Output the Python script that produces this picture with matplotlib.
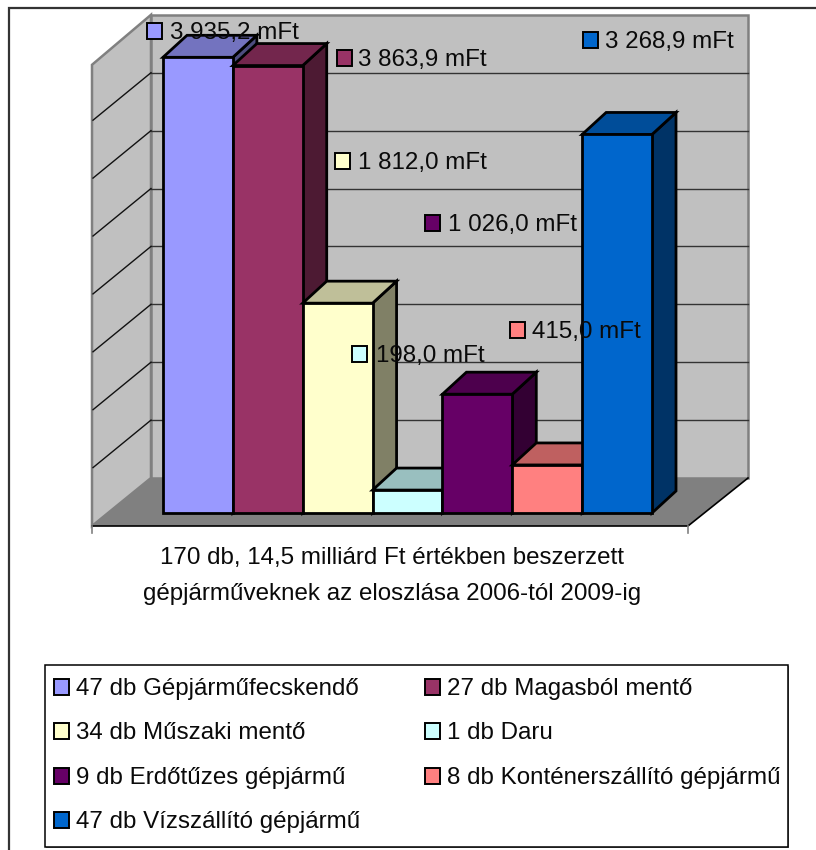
import matplotlib
matplotlib.use('Agg')
import matplotlib.pyplot as plt
from matplotlib.patches import Polygon, Rectangle

plt.rcParams['font.family'] = ['Liberation Sans', 'DejaVu Sans']

W, H = 816, 850

values = [3935.2, 3863.9, 1812.0, 198.0, 1026.0, 415.0, 3268.9]
value_labels = ['3 935,2 mFt', '3 863,9 mFt', '1 812,0 mFt', '198,0 mFt',
                '1 026,0 mFt', '415,0 mFt', '3 268,9 mFt']
names = ['47 db Gépjárműfecskendő', '27 db Magasból mentő', '34 db Műszaki mentő', '1 db Daru',
         '9 db Erdőtűzes gépjármű', '8 db Konténerszállító gépjármű', '47 db Vízszállító gépjármű']
front_cols = ['#9999FF', '#993366', '#FFFFCC', '#CCFFFF', '#660066', '#FF8080', '#0066CC']
top_cols = ['#7373BF', '#73264D', '#BFBF99', '#99BFBF', '#4D004D', '#BF6060', '#004D99']
side_cols = ['#4D4D80', '#4D1A33', '#808066', '#668080', '#330033', '#804040', '#003366']
grid_vals = [500, 1000, 1500, 2000, 2500, 3000, 3500]
title_lines = ['170 db, 14,5 milliárd Ft értékben beszerzett',
               'gépjárműveknek az eloszlása 2006-tól 2009-ig']

# data label anchors in pixels: (square left, square centre y, text left)
label_pos = [(147, 31, 170), (337, 58, 358), (335, 161, 358), (352, 354, 376),
             (425, 223, 448), (510, 330, 532), (583, 40, 605)]
legend_pos = [(54, 687), (425, 687), (54, 731), (425, 731), (54, 776), (425, 776), (54, 820)]

fig = plt.figure(figsize=(W / 100, H / 100), dpi=100, facecolor='white')

# background layer in pixel coordinates
px = fig.add_axes([0, 0, 1, 1])
px.set_xlim(0, W)
px.set_ylim(H, 0)
px.axis('off')

px.plot([9, 9, W], [H, 7.5, 7.5], color='#333333', lw=1.6, solid_joinstyle='miter')

# walls and floor
scale = 0.1158
wall_top = 478 - 4000 * scale
px.add_patch(Polygon([(92, 526), (151, 478), (151, wall_top), (92, wall_top + 50)],
                     fc='#C0C0C0', ec='#808080', lw=1.8))
px.add_patch(Polygon([(151, 478), (748, 478), (748, wall_top), (151, wall_top)],
                     fc='#C0C0C0', ec='#808080', lw=1.8))
px.add_patch(Polygon([(92, 526), (151, 478), (748, 478), (688, 526)], fc='#808080', ec='none'))
for v in grid_vals:
    y = 478 - v * scale
    px.plot([151, 748], [y, y], color='#333333', lw=1)
    px.plot([93, 151], [y + 47.5, y], color='#111111', lw=1)
px.plot([92, 688, 748], [526, 526, 478], color='black', lw=1.2)
px.plot([92, 92], [526, 533], color='#808080', lw=1.2)
px.plot([688, 688], [526, 533], color='#808080', lw=1.2)

# bars on a value axis: y=0 at pixel 513, one x unit is one 70 px category
x0, x1 = 163, 652
ax = fig.add_axes([x0 / W, (H - 513) / H, (x1 - x0) / W, 4000 * scale / H])
ax.set_xlim(0, len(values))
ax.set_ylim(0, 4000)
ax.axis('off')
ax.patch.set_alpha(0)

dx = 24 / ((x1 - x0) / len(values))
dy = 22 / scale
for i, v in enumerate(values):
    z = 2 + i
    ax.bar(i, v, width=1, align='edge', color=front_cols[i], edgecolor='black', lw=2,
           zorder=z + 0.2, clip_on=False)
    ax.add_patch(Polygon([(i, v), (i + dx, v + dy), (i + 1 + dx, v + dy), (i + 1, v)],
                         fc=top_cols[i], ec='black', lw=2, zorder=z + 0.1, clip_on=False))
    ax.add_patch(Polygon([(i + 1, 0), (i + 1 + dx, dy), (i + 1 + dx, v + dy), (i + 1, v)],
                         fc=side_cols[i], ec='black', lw=2, zorder=z, clip_on=False))

# data labels and legend are drawn last, so they sit over the bars
fs = 17.4
tr = px.transData
for i, (sx, cy, tx) in enumerate(label_pos):
    ax.add_patch(Rectangle((sx, cy - 8), 14.5, 16, fc=front_cols[i], ec='black', lw=1.4,
                           transform=tr, zorder=20, clip_on=False))
    ax.text(tx, cy + 8, value_labels[i], fontsize=fs, color='#0a0a0a', ha='left', va='baseline',
            transform=tr, zorder=21, clip_on=False)

for line, y in zip(title_lines, [564, 600]):
    ax.text(392, y, line, fontsize=fs, color='#0a0a0a', ha='center', va='baseline',
            transform=tr, zorder=21, clip_on=False)

ax.add_patch(Rectangle((46, 666), 743, 182, fc='#808080', ec='none', transform=tr, zorder=19, clip_on=False))
ax.add_patch(Rectangle((44.5, 664.5), 743.5, 182, fc='white', ec='black', lw=1.1,
                       transform=tr, zorder=19.5, clip_on=False))
for i, (sx, cy) in enumerate(legend_pos):
    ax.add_patch(Rectangle((sx, cy - 8), 14.5, 16, fc=front_cols[i], ec='black', lw=1.4,
                           transform=tr, zorder=20, clip_on=False))
    ax.text(sx + 22, cy + 8, names[i], fontsize=fs, color='#0a0a0a', ha='left', va='baseline',
            transform=tr, zorder=21, clip_on=False)

fig.savefig('out.png', dpi=100)
